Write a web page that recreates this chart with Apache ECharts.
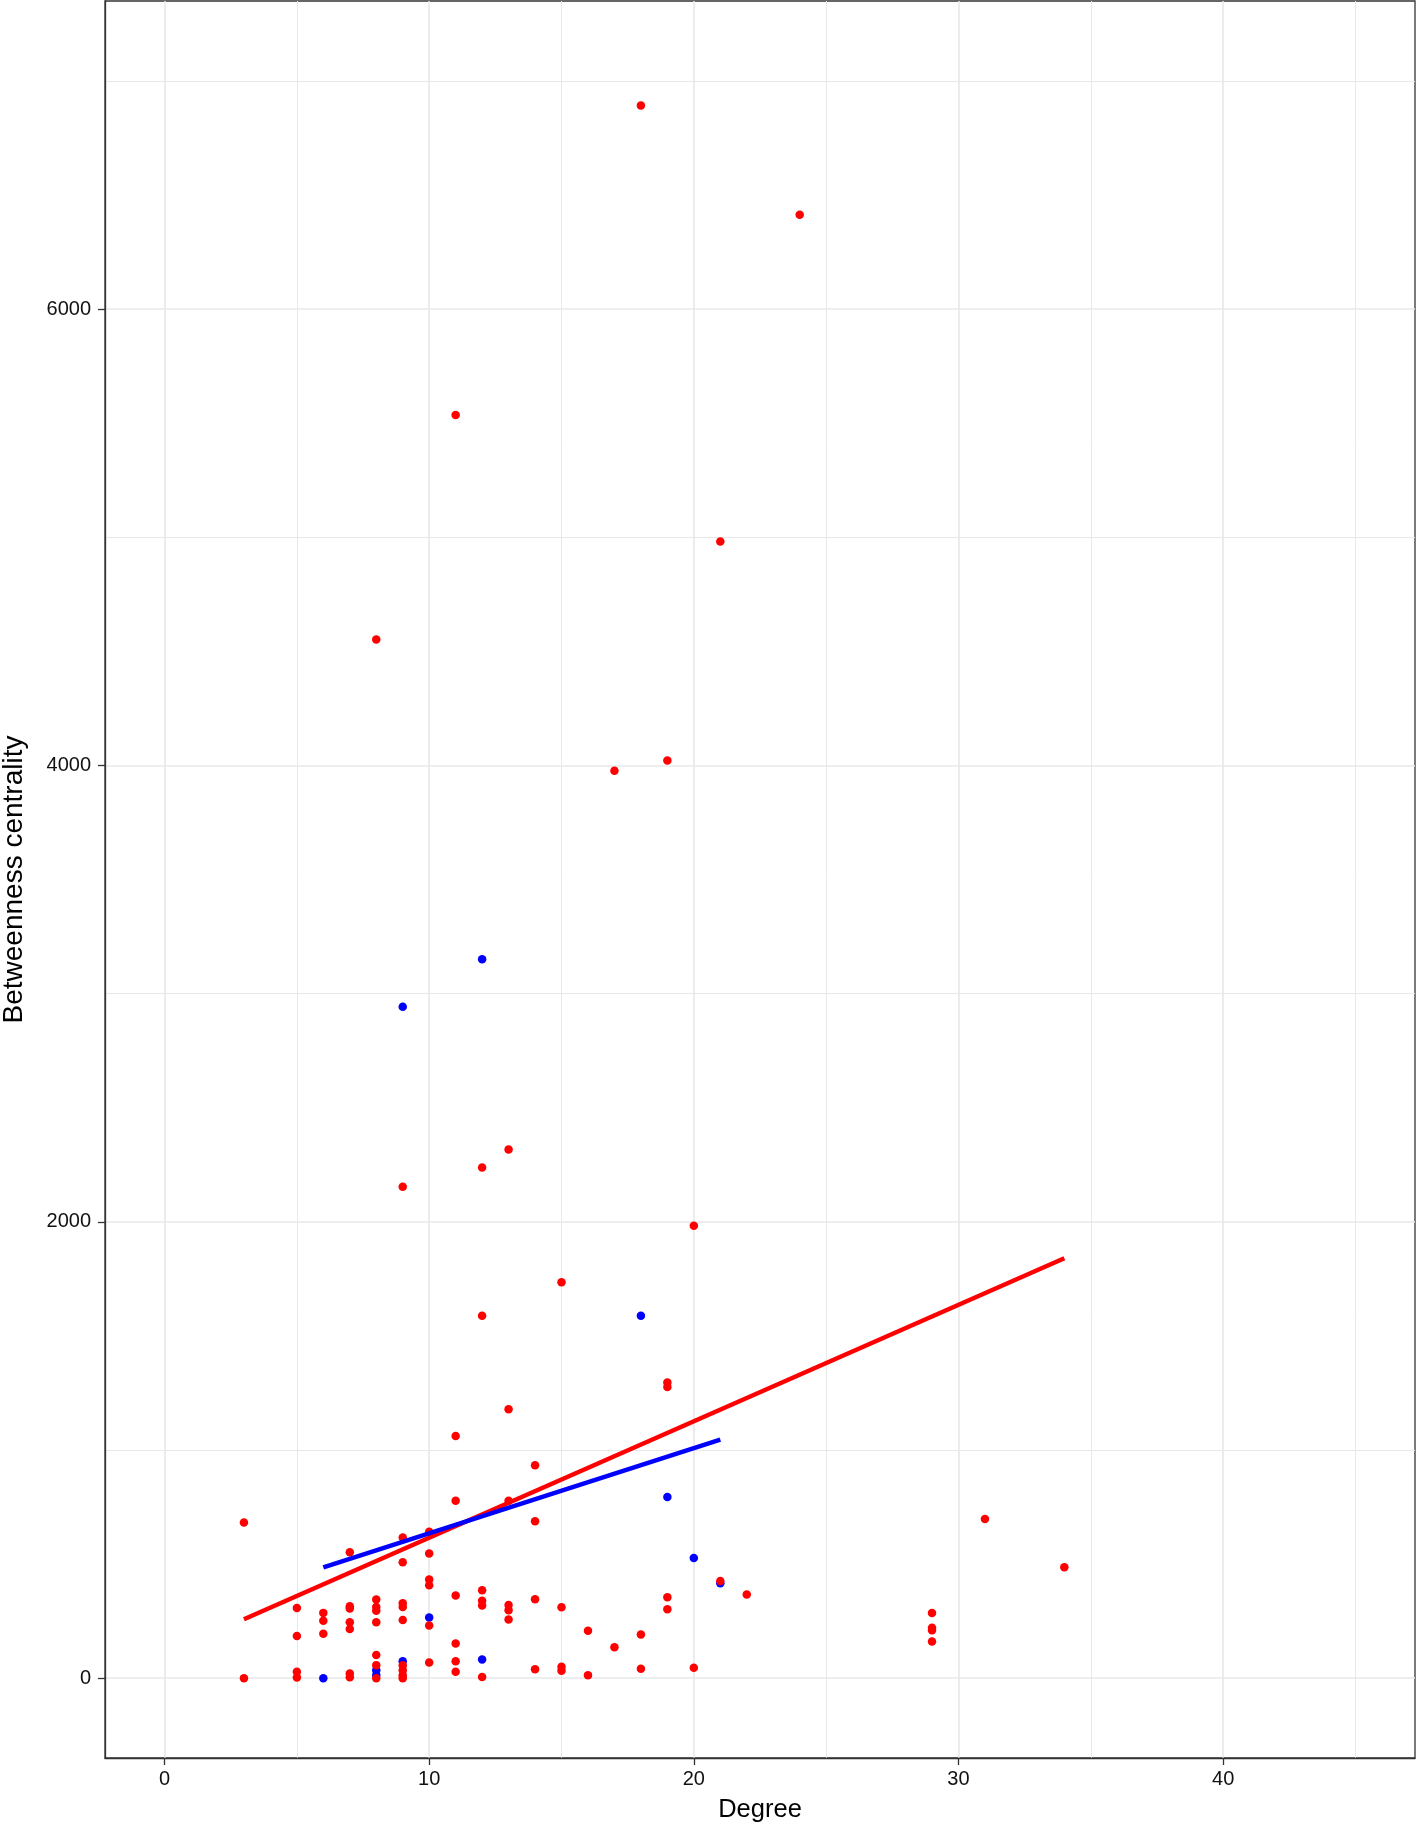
<!DOCTYPE html>
<html>
<head>
<meta charset="utf-8">
<title>Degree vs betweenness centrality</title>
<script src="https://cdn.jsdelivr.net/npm/echarts@6/dist/echarts.min.js"></script>
<style>
  html, body { margin: 0; padding: 0; background: #fff; }
  #chart { width: 1416px; height: 1825px; }
</style>
</head>
<body>
<div id="chart"></div>
<script>
// red group: degree / betweenness
const redDegree = [
  3, 3,
  5, 5, 5, 5,
  6, 6, 6,
  7, 7, 7, 7, 7, 7, 7,
  8, 8, 8, 8, 8, 8, 8, 8,
  9, 9, 9, 9, 9, 9, 9, 9, 9, 9,
  10, 10, 10, 10, 10, 10,
  11, 11, 11, 11, 11, 11, 11,
  12, 12, 12, 12, 12, 12,
  13, 13, 13, 13, 13, 13,
  14, 14, 14, 14,
  15, 15, 15, 15,
  16, 16,
  17, 17,
  18, 18, 18,
  19, 19, 19, 19, 19,
  20, 20,
  21, 21,
  22,
  24,
  29, 29, 29, 29,
  31,
  34
]
const redBetweenness = [
  682, 0,
  307, 185, 28, 3,
  286, 251, 194,
  552, 315, 305, 245, 215, 20, 4,
  4552, 345, 312, 295, 245, 101, 57, 0,
  2154, 616, 508, 328, 312, 255, 57, 35, 13, 0,
  641, 546, 432, 407, 231, 69,
  5536, 1061, 777, 362, 152, 74, 28,
  2238, 1588, 385, 339, 318, 5,
  2317, 1178, 777, 320, 298, 257,
  933, 688, 346, 39,
  1735, 311, 50, 32,
  208, 13,
  3977, 135,
  6892, 191, 41,
  4022, 1296, 1276, 355, 302,
  1983, 46,
  4981, 426,
  367,
  6413,
  285, 221, 210, 161,
  697,
  486
]

// blue group
const blueDegree = [6, 8, 8, 9, 9, 10, 12, 12, 18, 19, 20, 21]
const blueBetweenness = [0, 35, 13, 2942, 74, 266, 3151, 82, 1588, 794, 526, 416]

// fitted lines, end points
const redFitX = [3, 34]
const redFitY = [258, 1840]
const blueFitX = [6, 21]
const blueFitY = [485, 1045]

// axis ticks
const xTicks = [0, 10, 20, 30, 40]
const xMinor = [5, 15, 25, 35, 45]
const yTicks = [0, 2000, 4000, 6000]
const yMinor = [1000, 3000, 5000, 7000]

function pairs(xs, ys) {
  return xs.map(function(x, i) { return [x, ys[i]] })
}

const fontFamily = '"Liberation Sans", Arial, Helvetica, sans-serif'
const gridColor = '#E8E8E8'

const chart = echarts.init(document.getElementById('chart'), null, { renderer: 'canvas' })

chart.setOption({
  animation: false,
  backgroundColor: '#fff',
  textStyle: { fontFamily: fontFamily },
  grid: {
    left: 105,
    right: 1,
    top: 1,
    bottom: 67,
    containLabel: false,
    outerBoundsMode: 'none',
    show: true,
    borderColor: '#333333',
    borderWidth: 1.3,
    backgroundColor: 'transparent'
  },
  xAxis: [
    {
      type: 'value',
      min: -2.25,
      max: 47.25,
      name: 'Degree',
      nameLocation: 'middle',
      nameGap: 39,
      nameTextStyle: { fontSize: 25.5, color: '#000', fontFamily: fontFamily },
      axisLine: { show: true, onZero: false, lineStyle: { color: '#333', width: 1.3 } },
      axisTick: {
        show: true,
        length: 7,
        customValues: xTicks,
        lineStyle: { color: '#333', width: 1.3 }
      },
      axisLabel: {
        customValues: xTicks,
        margin: 11,
        fontSize: 20,
        color: '#111',
        fontFamily: fontFamily,
        formatter: function(v) { return String(v) }
      },
      splitLine: { show: true, lineStyle: { color: gridColor, width: 1.6 } }
    },
    {
      type: 'value',
      min: -2.25,
      max: 47.25,
      position: 'bottom',
      axisLine: { show: false, onZero: false },
      axisTick: { show: false, customValues: xMinor },
      axisLabel: { show: false, customValues: xMinor },
      splitLine: { show: true, lineStyle: { color: gridColor, width: 1 } }
    }
  ],
  yAxis: [
    {
      type: 'value',
      min: -350,
      max: 7350,
      name: 'Betweenness centrality',
      nameLocation: 'middle',
      nameGap: 77,
      nameTextStyle: { fontSize: 28, color: '#000', fontFamily: fontFamily },
      axisLine: { show: true, onZero: false, lineStyle: { color: '#333', width: 1.3 } },
      axisTick: {
        show: true,
        length: 7,
        customValues: yTicks,
        lineStyle: { color: '#333', width: 1.3 }
      },
      axisLabel: {
        customValues: yTicks,
        margin: 14,
        fontSize: 20,
        color: '#111',
        fontFamily: fontFamily,
        formatter: function(v) { return String(v) }
      },
      splitLine: { show: true, lineStyle: { color: gridColor, width: 1.6 } }
    },
    {
      type: 'value',
      min: -350,
      max: 7350,
      position: 'left',
      axisLine: { show: false, onZero: false },
      axisTick: { show: false, customValues: yMinor },
      axisLabel: { show: false, customValues: yMinor },
      splitLine: { show: true, lineStyle: { color: gridColor, width: 1 } }
    }
  ],
  series: [
    {
      name: 'blue',
      type: 'scatter',
      symbolSize: 8.5,
      itemStyle: { color: '#0000FF', opacity: 1 },
      data: pairs(blueDegree, blueBetweenness),
      z: 3
    },
    {
      name: 'red',
      type: 'scatter',
      symbolSize: 8.5,
      itemStyle: { color: '#FF0000', opacity: 1 },
      data: pairs(redDegree, redBetweenness),
      z: 4
    },
    {
      name: 'red fit',
      type: 'line',
      showSymbol: false,
      symbol: 'none',
      lineStyle: { color: '#FF0000', width: 4.5 },
      data: pairs(redFitX, redFitY),
      z: 5
    },
    {
      name: 'blue fit',
      type: 'line',
      showSymbol: false,
      symbol: 'none',
      lineStyle: { color: '#0000FF', width: 4.5 },
      data: pairs(blueFitX, blueFitY),
      z: 6
    }
  ]
})
</script>
</body>
</html>
